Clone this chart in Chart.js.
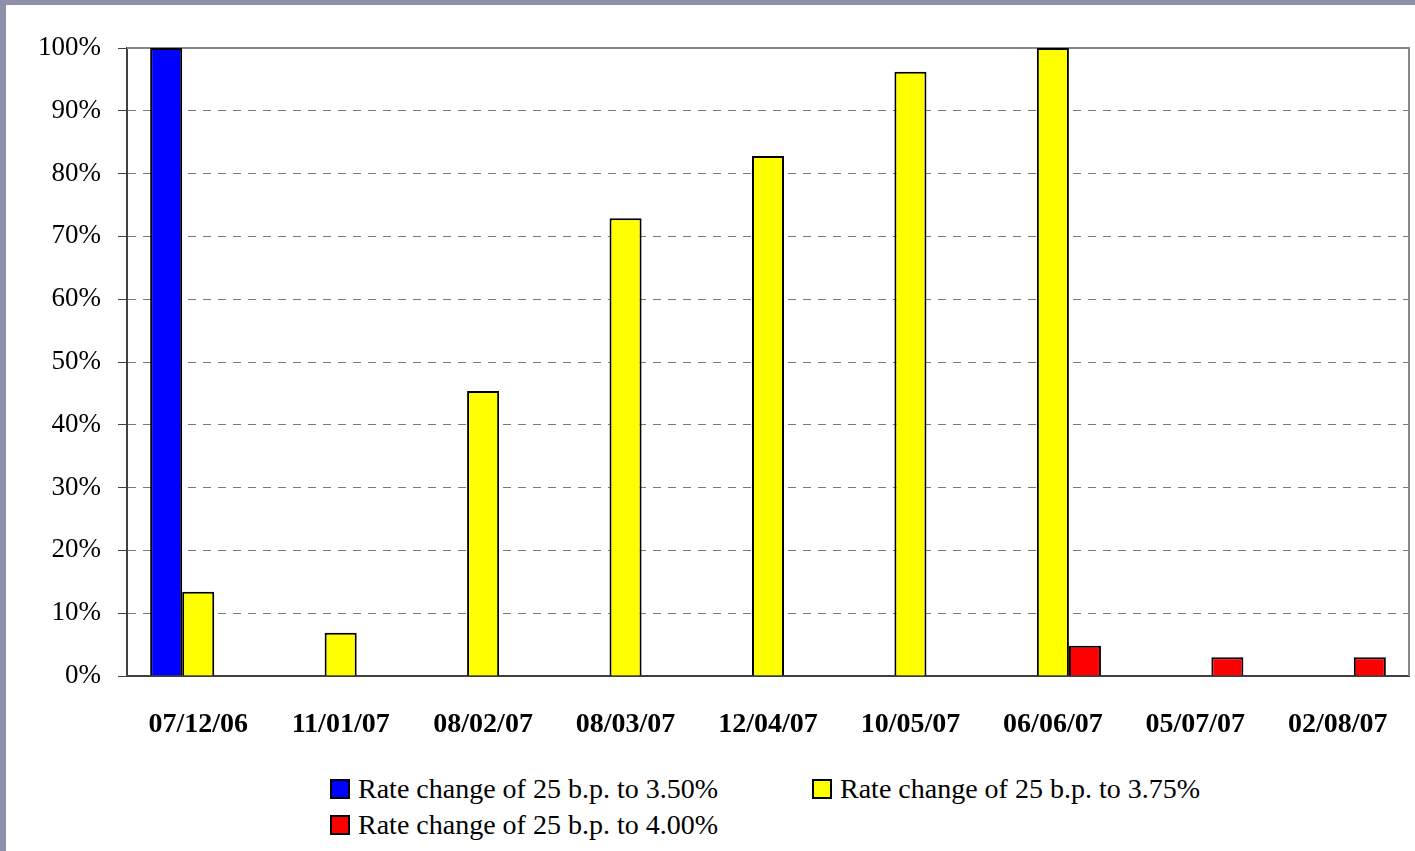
<!DOCTYPE html>
<html>
<head>
<meta charset="utf-8">
<script src="https://cdn.jsdelivr.net/npm/chart.js@4.4.1/dist/chart.umd.min.js"></script>
<style>
  html, body { margin: 0; padding: 0; }
  body { width: 1415px; height: 851px; background: #8f91aa; position: relative; overflow: hidden; }
  .panel { position: absolute; left: 6px; top: 5px; width: 1409px; height: 846px; background: #fff; }
  .chart-box { position: absolute; left: 0; top: 0; width: 1409px; height: 741px; }
  .legend-item { position: absolute; display: flex; align-items: center; height: 36px;
    font-family: "Liberation Serif", "Times New Roman", serif; font-size: 28px; color: #000; white-space: nowrap; }
  .legend-item span.box { width: 16px; height: 16px; border: 2px solid #000; margin-right: 8px; }
</style>
</head>
<body>
<div class="panel">
  <div class="chart-box"><canvas id="rateChart"></canvas></div>
  <div id="legend"></div>
</div>
<script>
const meetingDates = ['07/12/06', '11/01/07', '08/02/07', '08/03/07', '12/04/07', '10/05/07', '06/06/07', '05/07/07', '02/08/07'];
const to350 = [100, null, null, null, null, null, null, null, null];
const to375 = [13.4, 6.9, 45.4, 72.9, 82.8, 96.2, 100, null, null];
const to400 = [null, null, null, null, null, null, 4.8, 3.0, 3.0];
const yTicks = [0, 10, 20, 30, 40, 50, 60, 70, 80, 90, 100];

const serif = '"Liberation Serif", "Times New Roman", serif';

// gray frame on top / right of the plot area
const plotFrame = {
  id: 'plotFrame',
  beforeDatasetsDraw(chart) {
    const { ctx, chartArea: a } = chart;
    ctx.save();
    ctx.strokeStyle = '#888888';
    ctx.lineWidth = 2;
    ctx.beginPath();
    ctx.moveTo(a.left, a.top);
    ctx.lineTo(a.right, a.top);
    ctx.lineTo(a.right, a.bottom);
    ctx.stroke();
    ctx.restore();
  }
};

const chart = new Chart(document.getElementById('rateChart'), {
  type: 'bar',
  data: {
    labels: meetingDates,
    datasets: [
      { label: 'Rate change of 25 b.p. to 3.50%', data: to350, backgroundColor: '#0000ff' },
      { label: 'Rate change of 25 b.p. to 3.75%', data: to375, backgroundColor: '#ffff00' },
      { label: 'Rate change of 25 b.p. to 4.00%', data: to400, backgroundColor: '#ff0000' },
    ],
  },
  options: {
    responsive: true,
    maintainAspectRatio: false,
    animation: false,
    layout: { padding: { top: 43, right: 6, left: 0, bottom: 0 } },
    datasets: {
      bar: { categoryPercentage: 0.675, barPercentage: 1, borderColor: '#000', borderWidth: 2, borderSkipped: 'start' },
    },
    plugins: {
      legend: { display: false },
      tooltip: { enabled: false },
    },
    scales: {
      x: {
        grid: { display: false, drawTicks: false },
        border: { color: '#404040', width: 2 },
        ticks: { color: '#000', padding: 32, maxRotation: 0, font: { family: serif, size: 28, weight: 'bold' } },
        afterFit: (scale) => {
          scale.height = 70;
          scale.paddingLeft = 0;
          scale.paddingRight = 0;
        },
      },
      y: {
        min: 0,
        max: 100,
        afterBuildTicks: (scale) => { scale.ticks = yTicks.map((v) => ({ value: v })); },
        grid: {
          color: (c) => (c.index === 0 ? 'rgba(0,0,0,0)' : '#7a7a7a'),
          tickColor: '#404040',
          tickLength: 9,
          lineWidth: 1,
        },
        border: { color: '#404040', width: 2, dash: [8, 7] },
        ticks: {
          color: '#000',
          padding: 17,
          font: { family: serif, size: 27 },
          callback: (v) => v + '%',
        },
        afterFit: (scale) => { scale.width = 121; },
      },
    },
  },
  plugins: [plotFrame],
});

// html legend, two columns like the original
const legendSpots = [
  { left: 324, top: 766 },
  { left: 806, top: 766 },
  { left: 324, top: 802 },
];
const legendEl = document.getElementById('legend');
chart.data.datasets.forEach((ds, i) => {
  const item = document.createElement('div');
  item.className = 'legend-item';
  item.style.left = legendSpots[i].left + 'px';
  item.style.top = legendSpots[i].top + 'px';
  const box = document.createElement('span');
  box.className = 'box';
  box.style.background = ds.backgroundColor;
  item.appendChild(box);
  item.appendChild(document.createTextNode(ds.label));
  legendEl.appendChild(item);
});
</script>
</body>
</html>
